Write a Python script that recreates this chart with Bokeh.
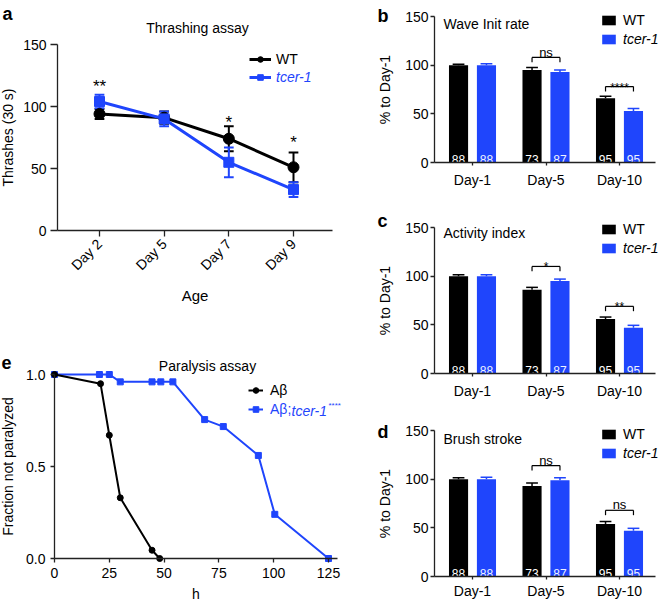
from bokeh.plotting import figure
from bokeh.layouts import row, column
from bokeh.models import (Range1d, FixedTicker, Label, Legend, LegendItem,
                          NumeralTickFormatter)
from bokeh.core.properties import value
from bokeh.embed import file_html
from bokeh.resources import INLINE

FONT = "Liberation Sans"
BLUE = "#1f45fc"
AX = "#222222"

# ---------------- data ----------------
# panel a: thrashing assay
days_a = ["Day 2", "Day 5", "Day 7", "Day 9"]
wt_a = [94, 91, 74, 51]
wt_a_err = [4, 5, 10, 12]
tc_a = [104, 90, 55, 33]
tc_a_err = [5.5, 6, 12, 6]
sig_a = ["**", "", "*", "*"]
sig_a_y = [116, 0, 87, 71]

# panels b-d: bar charts (% to Day-1)
bar_days = ["Day-1", "Day-5", "Day-10"]
n_wt = ["88", "73", "95"]
n_tc = ["88", "87", "95"]

wave_wt = [100, 95, 66]
wave_wt_err = [1, 2.5, 2]
wave_tc = [100, 93, 53]
wave_tc_err = [1.5, 2, 2.5]
wave_sig = ["", "ns", "****"]
wave_sig_y = [0, 108, 78]

act_wt = [100, 86, 56]
act_wt_err = [1.5, 2.5, 2]
act_tc = [100, 95, 47]
act_tc_err = [1.5, 2, 2.5]
act_sig = ["", "*", "**"]
act_sig_y = [0, 110, 69]

brush_wt = [100, 93, 54]
brush_wt_err = [1.5, 3, 2.5]
brush_tc = [100, 99, 47]
brush_tc_err = [2, 2.5, 2.5]
brush_sig = ["", "ns", "ns"]
brush_sig_y = [0, 114, 68]

# panel e: paralysis assay
ab_h = [0, 21, 25, 30, 44.5, 48]
ab_f = [1.0, 0.95, 0.67, 0.33, 0.045, 0.0]
abt_h = [0, 20.5, 25, 30, 44.5, 48.5, 54, 68.5, 77, 93, 100.5, 125]
abt_f = [1.0, 1.0, 1.0, 0.96, 0.96, 0.96, 0.96, 0.755, 0.717, 0.56, 0.24, 0.0]


# ---------------- helpers ----------------
def lin(p0, v0, p1, v1, p):
    return v0 + (p - p0) * (v1 - v0) / (p1 - p0)


class Panel:
    """A figure whose frame fills its whole box; positions given in page pixels."""

    def __init__(self, ox, oy, w, h, xa, xb, ya, yb, x_axis_px, y_axis_px, x_end_px, y_top_val):
        self.ox, self.oy, self.w, self.h = ox, oy, w, h
        self.fx = lambda p: lin(xa[0], xa[1], xb[0], xb[1], p)
        self.fy = lambda p: lin(ya[0], ya[1], yb[0], yb[1], p)
        p = figure(width=w, height=h,
                   x_range=Range1d(self.fx(ox), self.fx(ox + w)),
                   y_range=Range1d(self.fy(oy + h), self.fy(oy)),
                   output_backend="svg", toolbar_location=None,
                   min_border_left=0, min_border_right=0, min_border_top=0, min_border_bottom=0)
        p.grid.visible = False
        p.outline_line_color = None
        y0 = self.fy(x_axis_px)
        x0 = self.fx(y_axis_px)
        p.xaxis.fixed_location = y0
        p.yaxis.fixed_location = x0
        p.xaxis.bounds = (x0, self.fx(x_end_px))
        p.yaxis.bounds = (y0, y_top_val)
        for ax in (p.xaxis[0], p.yaxis[0]):
            ax.axis_line_color = AX
            ax.axis_line_width = 1.3
            ax.major_tick_line_color = AX
            ax.major_tick_line_width = 1.3
            ax.major_tick_in = 0
            ax.major_tick_out = 5
            ax.minor_tick_line_color = None
            ax.major_label_text_font = FONT
            ax.major_label_text_font_size = "14px"
            ax.major_label_text_color = "black"
            ax.axis_label_text_font = FONT
            ax.axis_label_text_font_size = "14px"
            ax.axis_label_text_font_style = "normal"
            ax.axis_label_text_color = "black"
        self.p = p

    def label(self, px, py, text, size="14px", style="normal", align="left",
              baseline="middle", color="black"):
        self.p.add_layout(Label(x=px - self.ox, y=self.oy + self.h - py,
                                x_units="screen", y_units="screen", text=text,
                                text_font=FONT, text_font_size=size, text_font_style=style,
                                text_align=align, text_baseline=baseline, text_color=color))

    def legend(self, items, px_left, py_center, gw, gh, style="normal", standoff=6, color="black"):
        loc = (px_left - self.ox, self.oy + self.h - (py_center + gh / 2))
        self.p.add_layout(Legend(items=items, location=loc, glyph_width=gw, glyph_height=gh,
                                 label_height=gh, label_standoff=standoff, padding=0, margin=0,
                                 spacing=0, border_line_alpha=0, background_fill_alpha=0,
                                 label_text_font=FONT, label_text_font_size="14px",
                                 label_text_font_style=style, label_text_color=color))


LEFT_W = 346
RIGHT_W = 314

# ---------------- panel a ----------------
A = Panel(0, 0, LEFT_W, 335, (99, 0), (293, 3), (230, 0), (44, 150),
          x_axis_px=230, y_axis_px=57, x_end_px=332, y_top_val=150)
pa = A.p
xa = list(range(len(days_a)))
pa.xaxis.ticker = FixedTicker(ticks=xa)
pa.xaxis.major_label_overrides = {i: d for i, d in enumerate(days_a)}
pa.xaxis.major_label_orientation = 0.785398
pa.xaxis.major_tick_out = 6
pa.yaxis.ticker = FixedTicker(ticks=[0, 50, 100, 150])
pa.yaxis.major_tick_out = 7
pa.yaxis.major_label_standoff = 4
pa.xaxis.axis_label = "Age"
pa.xaxis.axis_label_text_font_size = "15px"
pa.yaxis.axis_label = "Thrashes (30 s)"
pa.yaxis.axis_label_standoff = 4

cap = 0.075
for vals, errs, col in ((wt_a, wt_a_err, "black"), (tc_a, tc_a_err, BLUE)):
    lo = [v - e for v, e in zip(vals, errs)]
    hi = [v + e for v, e in zip(vals, errs)]
    pa.segment(x0=xa, y0=lo, x1=xa, y1=hi, line_color=col, line_width=2)
    pa.segment(x0=[x - cap for x in xa], y0=lo, x1=[x + cap for x in xa], y1=lo, line_color=col, line_width=2)
    pa.segment(x0=[x - cap for x in xa], y0=hi, x1=[x + cap for x in xa], y1=hi, line_color=col, line_width=2)

l_wt = pa.line(xa, wt_a, line_color="black", line_width=3)
m_wt = pa.scatter(xa, wt_a, marker="circle", size=11, color="black")
l_tc = pa.line(xa, tc_a, line_color=BLUE, line_width=3)
m_tc = pa.scatter(xa, tc_a, marker="square", size=10, color=BLUE)

sx = [x for x, s in zip(xa, sig_a) if s]
sy = [y for y, s in zip(sig_a_y, sig_a) if s]
st = [s for s in sig_a if s]
pa.text(x=sx, y=sy, text=st, text_font=value(FONT), text_font_size="17px",
        text_align="center", text_baseline="alphabetic", text_color="black")

A.legend([LegendItem(label="WT", renderers=[l_wt, m_wt])], 249, 60, 22, 14, standoff=5)
A.legend([LegendItem(label="tcer-1", renderers=[l_tc, m_tc])], 249, 78, 22, 14,
         style="italic", standoff=5, color=BLUE)
A.label(197, 27, "Thrashing assay", align="center")
A.label(2, 13, "a", size="18px", style="bold", baseline="alphabetic")

# ---------------- panel e ----------------
E = Panel(0, 335, LEFT_W, 270, (54, 0), (328, 125), (558, 0.0), (374, 1.0),
          x_axis_px=558, y_axis_px=54, x_end_px=337, y_top_val=1.0)
pe = E.p
pe.xaxis.ticker = FixedTicker(ticks=[0, 25, 50, 75, 100, 125])
pe.yaxis.ticker = FixedTicker(ticks=[0.0, 0.5, 1.0])
pe.yaxis.formatter = NumeralTickFormatter(format="0.0")
pe.xaxis.major_tick_out = 4
pe.yaxis.major_tick_out = 4
pe.yaxis.major_label_standoff = 5
pe.xaxis.axis_label = "h"
pe.xaxis.axis_label_standoff = 5
pe.yaxis.axis_label = "Fraction not paralyzed"
pe.yaxis.axis_label_standoff = 7

le_tc = pe.line(abt_h, abt_f, line_color=BLUE, line_width=2)
me_tc = pe.scatter(abt_h, abt_f, marker="square", size=6, color=BLUE)
le_ab = pe.line(ab_h, ab_f, line_color="black", line_width=2)
me_ab = pe.scatter(ab_h, ab_f, marker="circle", size=6, color="black")

E.legend([LegendItem(label="A\u03b2", renderers=[le_ab, me_ab])], 248, 391, 15, 14, standoff=7)
E.legend([LegendItem(label="A\u03b2;", renderers=[le_tc, me_tc])], 248, 410, 15, 14,
         standoff=7, color=BLUE)
E.label(291, 410, "tcer-1", style="italic", color=BLUE)
E.label(328, 405, "****", size="8px", color=BLUE)
E.label(207, 365, "Paralysis assay", align="center")
E.label(1, 362, "e", size="18px", style="bold", baseline="alphabetic")


# ---------------- panels b-d ----------------
def bar_panel(oy, h, y0_px, y150_px, wt, wt_err, tc, tc_err, sig, sig_y,
              title, title_py, letter, letter_py, leg_py, xlab_standoff=6):
    P = Panel(LEFT_W, oy, RIGHT_W, h, (472, 0), (619, 2), (y0_px, 0), (y150_px, 150),
              x_axis_px=y0_px, y_axis_px=434, x_end_px=655, y_top_val=150)
    p = P.p
    xs = list(range(len(bar_days)))
    p.xaxis.ticker = FixedTicker(ticks=xs)
    p.xaxis.major_label_overrides = {i: d for i, d in enumerate(bar_days)}
    p.xaxis.major_tick_out = 3
    p.xaxis.major_label_standoff = xlab_standoff
    p.yaxis.ticker = FixedTicker(ticks=[0, 50, 100, 150])
    p.yaxis.major_tick_out = 4
    p.yaxis.major_label_standoff = 2
    p.yaxis.axis_label = "% to Day-1"
    p.yaxis.axis_label_standoff = 9
    off, bw, cw = 0.19, 0.26, 0.08
    x_wt = [x - off for x in xs]
    x_tc = [x + off for x in xs]
    r_wt = p.vbar(x=x_wt, top=wt, width=bw, bottom=0, fill_color="black", line_color=None)
    r_tc = p.vbar(x=x_tc, top=tc, width=bw, bottom=0, fill_color=BLUE, line_color=None)
    for xx, vals, errs, col in ((x_wt, wt, wt_err, "black"), (x_tc, tc, tc_err, BLUE)):
        hi = [v + e for v, e in zip(vals, errs)]
        p.segment(x0=xx, y0=vals, x1=xx, y1=hi, line_color=col, line_width=1.5)
        p.segment(x0=[x - cw for x in xx], y0=hi, x1=[x + cw for x in xx], y1=hi,
                  line_color=col, line_width=1.5)
    p.text(x=x_wt, y=[3.5] * len(xs), text=n_wt, text_font=value(FONT), text_font_size="12px",
           text_align="center", text_baseline="alphabetic", text_color="white")
    p.text(x=x_tc, y=[3.5] * len(xs), text=n_tc, text_font=value(FONT), text_font_size="12px",
           text_align="center", text_baseline="alphabetic", text_color="#eef2ff")
    for i, (s, hh) in enumerate(zip(sig, sig_y)):
        if not s:
            continue
        p.segment(x0=[x_wt[i]], y0=[hh], x1=[x_tc[i]], y1=[hh], line_color="black", line_width=1.2)
        p.segment(x0=[x_wt[i], x_tc[i]], y0=[hh, hh], x1=[x_wt[i], x_tc[i]], y1=[hh - 5, hh - 5],
                  line_color="black", line_width=1.2)
        if s.startswith("*"):
            p.text(x=[i], y=[hh - 1], text=[s], text_font=value(FONT), text_font_size="12px",
                   text_align="center", text_baseline="alphabetic", text_color="black")
        else:
            p.text(x=[i], y=[hh + 5.5], text=[s], text_font=value(FONT), text_font_size="13px",
                   text_align="center", text_baseline="alphabetic", text_color="black")
    P.legend([LegendItem(label="WT", renderers=[r_wt])], 600, leg_py, 17, 12)
    P.legend([LegendItem(label="tcer-1", renderers=[r_tc])], 600, leg_py + 19, 17, 12, style="italic")
    P.label(443, title_py, title)
    P.label(377, letter_py, letter, size="18px", style="bold", baseline="alphabetic")
    return p


pb = bar_panel(0, 195, 162, 16, wave_wt, wave_wt_err, wave_tc, wave_tc_err, wave_sig, wave_sig_y,
               "Wave Init rate", 23, "b", 15, 22)
pc = bar_panel(195, 205, 373, 227, act_wt, act_wt_err, act_tc, act_tc_err, act_sig, act_sig_y,
               "Activity index", 232, "c", 220, 231)
pd = bar_panel(400, 205, 576, 430, brush_wt, brush_wt_err, brush_tc, brush_tc_err, brush_sig, brush_sig_y,
               "Brush stroke", 438, "d", 431, 436, xlab_standoff=3)

layout = row(column(pa, pe), column(pb, pc, pd))
open("out.html", "w").write(file_html(layout, INLINE))
